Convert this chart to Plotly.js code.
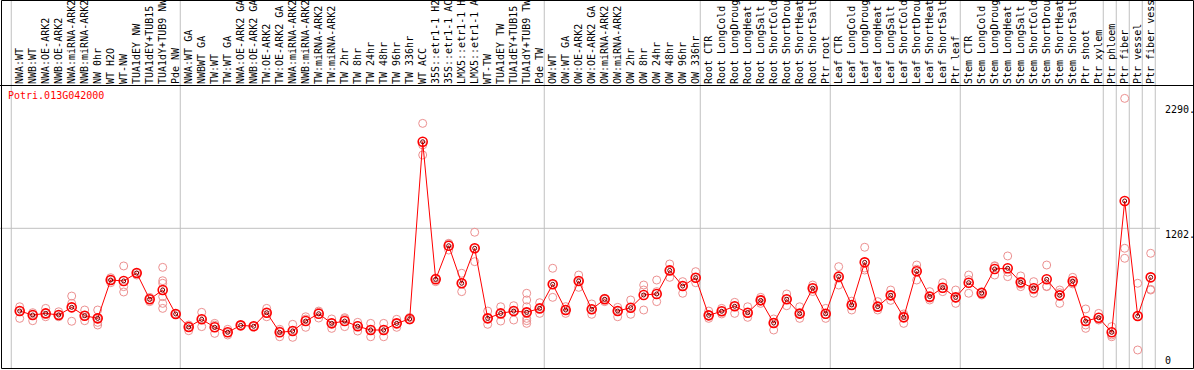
<!DOCTYPE html>
<html><head><meta charset="utf-8">
<script src="https://cdn.plot.ly/plotly-3.0.1.min.js"></script>
<style>html,body{margin:0;padding:0;background:#fff;overflow:hidden}#chart{width:1194px;height:370px}</style>
</head><body><div id="chart"></div>
<script>
const geneName = "Potri.013G042000";
const labels = ["NWA:WT","NWB:WT","NWA:OE-ARK2","NWB:OE-ARK2","NWA:miRNA-ARK2","NWB:miRNA-ARK2","NW 0hr","WT H2O","WT-NW","TUA1dEY NW",
"TUA1dEY+TUB15","TUA1dY+TUB9 NW","Pde NW","NWA:WT GA","NWBWT GA","TW:WT","TW:WT GA","NWA:OE-ARK2 GA","NWB:OE-ARK2 GA","TW:OE-ARK2",
"TW:OE-ARK2 GA","NWA:miRNA-ARK2","NWB:miRNA-ARK2","TW:miRNA-ARK2","TW:miRNA-ARK2","TW 2hr","TW 8hr","TW 24hr","TW 48hr","TW 96hr",
"TW 336hr","WT ACC","35S::etr1-1 H2","35S::etr1-1 AC","LMX5::etr1-1 H","LMX5::etr1-1 A","WT-TW","TUA1dEY TW","TUA1dEY+TUB15","TUA1dY+TUB9 TW",
"Pde TW","OW:WT","OW:WT GA","OW:OE-ARK2","OW:OE-ARK2 GA","OW:miRNA-ARK2","OW:miRNA-ARK2","OW 2hr","OW 8hr","OW 24hr",
"OW 48hr","OW 96hr","OW 336hr","Root CTR","Root LongCold","Root LongDroug","Root LongHeat","Root LongSalt","Root ShortCold","Root ShortDrou",
"Root ShortHeat","Root ShortSalt","Ptr root","Leaf CTR","Leaf LongCold","Leaf LongDroug","Leaf LongHeat","Leaf LongSalt","Leaf ShortCold","Leaf ShortDrou",
"Leaf ShortHeat","Leaf ShortSalt","Ptr leaf","Stem CTR","Stem LongCold","Stem LongDroug","Stem LongHeat","Stem LongSalt","Stem ShortCold","Stem ShortDrou",
"Stem ShortHeat","Stem ShortSalt","Ptr shoot","Ptr xylem","Ptr phloem","Ptr fiber","Ptr vessel","Ptr fiber vess"];

const means = [490,456,470,456,522,450,427,757,749,817,
591,671,465,353,419,350,307,367,359,476,
307,318,404,467,384,404,359,327,327,384,
422,1947,763,1052,729,1030,427,470,490,479,
513,720,499,749,505,591,490,519,628,637,
840,705,777,453,488,531,476,582,387,591,
468,686,467,786,542,909,528,625,436,832,
614,691,608,734,645,852,858,737,686,763,
625,746,404,433,307,1437,447,780];

const reps = [
[527,490,427],[476,456,407],[513,470,441],[484,456,441],[619,556,402],[499,450,407],[499,420,393,370],[777,757,734],[878,700,654],[818,817,800],
[608,591,571],[866,751,729,614,556,513],[465,465,465],[370,353,321],[479,422,356],[384,368,298],[333,304,284],[367,367,367],[359,359,359],[513,474,441],
[333,319,269],[376,318,264],[441,421,350],[490,481,430],[422,389,341],[433,423,356],[393,366,318],[384,328,269],[384,328,269],[419,383,350],
[435,413,418],[2105,1919,1833],[772,774,743],[1073,1068,1015],[815,729,657],[1168,1030,915],[490,427,376],[527,470,404],[536,490,413],[643,585,527,479,427,407,384],
[562,513,470],[858,720,608],[528,499,470],[800,749,694],[551,505,462],[600,591,571],[522,490,441],[585,519,462],[714,671,499],[757,657,571],
[895,840,780],[743,705,643],[829,777,734],[490,453,427],[513,488,465],[565,531,470],[527,476,436],[608,582,556],[422,387,327],[637,591,536],
[527,470,427],[714,686,658],[513,460,427],[872,772,714],[575,542,499],[1039,860,843],[571,528,499],[671,625,582],[465,450,384],[886,850,757],
[657,600,585],[734,683,657],[671,600,556],[800,760,643],[657,650,628],[880,875,800],[964,825,786],[792,720,700],[743,672,643],[886,703,700],
[671,648,556],[780,734,724],[508,370,341],[470,416,413],[356,284,269],[2320,1030,944],[729,447,155],[987,677,671]];

const groupEnds = [-1,12,40,52,62,72,83,84,85,86,87];
const yLabelVals = [2290,1202,0];
const yLabelText = ["2290.","1202.","0"];
const gridVal = 1202;

const FONT = "DejaVu Sans Mono, monospace";
const W = 1194, H = 370, T = 85, B = 1;
const pxPerUnit = 0.11622;           // vertical scale
const plotH = H - T - B;
const y0 = -(H - B - 368) / pxPerUnit;
const yRange = [y0, y0 + plotH / pxPerUnit];
const xRange = [-19.7 / 13, (W - 19.7) / 13];
const toPaperY = py => (H - B - py) / plotH;

const xs = labels.map((_, i) => i);
const repX = [], repY = [];
reps.forEach((r, i) => r.forEach(v => { repX.push(i); repY.push(v); }));

const traces = [
  {x: repX, y: repY, mode: 'markers', type: 'scatter', hoverinfo: 'skip',
   marker: {symbol: 'circle-open', size: 8, color: '#ec9090', line: {width: 1}}},
  {x: xs, y: means, mode: 'lines', type: 'scatter', line: {color: '#ff0000', width: 1}},
  {x: xs, y: means, mode: 'markers', type: 'scatter',
   marker: {symbol: 'circle-open', size: 9, color: '#ff0000', line: {width: 1.6}}},
  {x: xs, y: means, mode: 'markers', type: 'scatter',
   marker: {symbol: 'circle-open', size: 4, color: '#700000', line: {width: 1}}}
];

const shapes = [];
groupEnds.forEach(g => shapes.push({type: 'line', xref: 'x', yref: 'paper', x0: g + 0.35, x1: g + 0.35,
  y0: 0, y1: toPaperY(0), line: {color: '#c0c0c0', width: 1}, layer: 'below'}));
shapes.push({type: 'line', xref: 'paper', yref: 'y', x0: 0, x1: 1160 / W, y0: gridVal, y1: gridVal,
  line: {color: '#c0c0c0', width: 1}, layer: 'below'});
shapes.push({type: 'line', xref: 'paper', yref: 'paper', x0: 0, x1: 1, y0: toPaperY(85.5), y1: toPaperY(85.5),
  line: {color: '#000', width: 1}});
shapes.push({type: 'rect', xref: 'paper', yref: 'paper', x0: 1.5 / W, x1: 1193.5 / W, y0: toPaperY(368.5), y1: toPaperY(0.5),
  line: {color: '#000', width: 1}});

const annotations = yLabelVals.map((v, i) => ({
  xref: 'paper', yref: 'y', x: 1163 / W, y: v, xanchor: 'left', yanchor: v === 0 ? 'bottom' : 'top',
  yshift: v === 1202 ? 1 : 0, text: yLabelText[i], showarrow: false,
  font: {family: FONT, size: 10, color: '#000'}
}));

const layout = {
  width: W, height: H, margin: {l: 0, r: 0, t: T, b: B, pad: 0},
  paper_bgcolor: '#fff', plot_bgcolor: '#fff', showlegend: false,
  title: {text: geneName, font: {family: FONT, size: 10, color: '#ff0000'},
          xref: 'paper', x: 8 / W, xanchor: 'left', yref: 'container', y: 1 - 92 / H, yanchor: 'top'},
  xaxis: {range: xRange, side: 'top', tickmode: 'array', tickvals: xs, ticktext: labels, tickangle: -90,
          ticks: '', showgrid: false, zeroline: false, showline: false, automargin: false,
          tickfont: {family: FONT, size: 10, color: '#000'}},
  yaxis: {range: yRange, showgrid: false, zeroline: false, showticklabels: false, ticks: '', automargin: false},
  shapes: shapes, annotations: annotations
};

Plotly.newPlot('chart', traces, layout, {staticPlot: true, displayModeBar: false});
</script></body></html>
